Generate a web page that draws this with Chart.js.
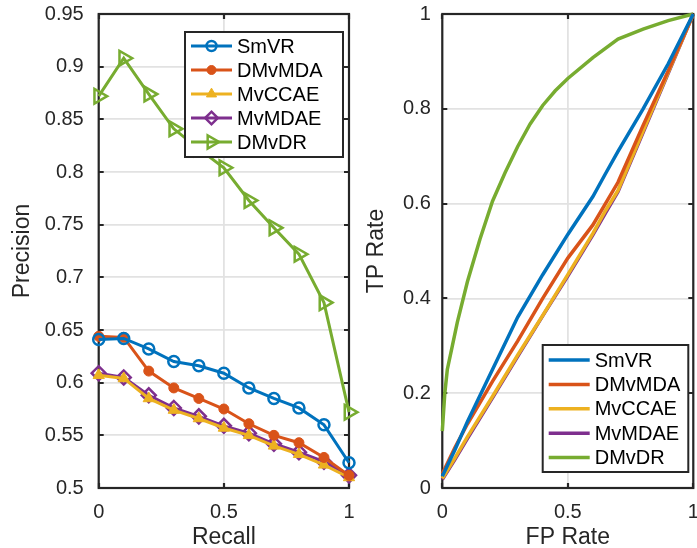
<!DOCTYPE html>
<html>
<head>
<meta charset="utf-8">
<script src="https://cdn.jsdelivr.net/npm/chart.js@4"></script>
<style>
  html, body { margin: 0; padding: 0; background: #fff; }
  #wrap { position: relative; width: 697px; height: 548px; }
  canvas { position: absolute; top: 0; }
  #pr { left: 0; }
  #roc { left: 360px; }
</style>
</head>
<body>
<div id="wrap">
  <canvas id="pr" width="360" height="548"></canvas>
  <canvas id="roc" width="337" height="548"></canvas>
</div>
<script>
// precision / recall
const recall = [0, 0.1, 0.2, 0.3, 0.4, 0.5, 0.6, 0.7, 0.8, 0.9, 1];
const prSmVR   = [0.641, 0.642, 0.632, 0.620, 0.616, 0.609, 0.595, 0.585, 0.576, 0.560, 0.524];
const prDMvMDA = [0.644, 0.643, 0.611, 0.595, 0.585, 0.575, 0.561, 0.550, 0.543, 0.529, 0.512];
const prMvCCAE = [0.607, 0.604, 0.585, 0.574, 0.566, 0.557, 0.550, 0.540, 0.532, 0.522, 0.510];
const prMvMDAE = [0.609, 0.605, 0.588, 0.576, 0.568, 0.559, 0.552, 0.542, 0.534, 0.525, 0.512];
const prDMvDR  = [0.872, 0.908, 0.874, 0.841, 0.822, 0.804, 0.773, 0.747, 0.722, 0.676, 0.572];

// ROC
const fpr = [0, 0.05, 0.1, 0.2, 0.3, 0.4, 0.5, 0.6, 0.65, 0.7, 0.8, 0.9, 1];
const tpSmVR   = [0.025, 0.08, 0.14, 0.25, 0.36, 0.45, 0.535, 0.615, 0.663, 0.71, 0.80, 0.895, 1];
const tpDMvMDA = [0.030, 0.085, 0.135, 0.225, 0.31, 0.40, 0.485, 0.555, 0.6, 0.645, 0.765, 0.88, 1];
const tpMvCCAE = [0.020, 0.063, 0.108, 0.193, 0.28, 0.364, 0.45, 0.537, 0.585, 0.628, 0.753, 0.877, 1];
const tpMvMDAE = [0.018, 0.06, 0.104, 0.19, 0.277, 0.363, 0.447, 0.534, 0.58, 0.625, 0.75, 0.875, 1];
const fprDMvDR = [0, 0.01, 0.02, 0.04, 0.06, 0.1, 0.15, 0.2, 0.25, 0.3, 0.35, 0.4, 0.45, 0.5, 0.6, 0.7, 0.8, 0.9, 1];
const tpDMvDR  = [0.12, 0.2, 0.25, 0.3, 0.35, 0.435, 0.525, 0.605, 0.665, 0.72, 0.768, 0.807, 0.838, 0.864, 0.908, 0.947, 0.968, 0.986, 1];

const prTicks = [0.5, 0.55, 0.6, 0.65, 0.7, 0.75, 0.8, 0.85, 0.9, 0.95];
const rocTicks = [0, 0.2, 0.4, 0.6, 0.8, 1];
const xTicks = [0, 0.5, 1];

const names = ['SmVR', 'DMvMDA', 'MvCCAE', 'MvMDAE', 'DMvDR'];
const colors = ['#0072BD', '#D95319', '#EDB120', '#7E2F8E', '#77AC30'];

const FONT = '"Liberation Sans", Arial, sans-serif';
const AXIS = '#262626';

const pts = (xs, ys) => xs.map((x, i) => ({ x: x, y: ys[i] }));
const fmt = v => String(+v.toFixed(2));

// matlab style box + inward ticks, under the data
const boxPlugin = {
  id: 'mbox',
  beforeDatasetsDraw(chart) {
    const { ctx, chartArea: a, scales } = chart;
    ctx.save();
    ctx.strokeStyle = AXIS;
    ctx.lineWidth = 2.2;
    ctx.strokeRect(a.left, a.top, a.right - a.left, a.bottom - a.top);
    const len = 5;
    ctx.beginPath();
    scales.x.ticks.forEach(t => {
      const px = Math.round(scales.x.getPixelForValue(t.value));
      ctx.moveTo(px, a.bottom); ctx.lineTo(px, a.bottom - len);
      ctx.moveTo(px, a.top); ctx.lineTo(px, a.top + len);
    });
    scales.y.ticks.forEach(t => {
      const py = Math.round(scales.y.getPixelForValue(t.value));
      ctx.moveTo(a.left, py); ctx.lineTo(a.left + len, py);
      ctx.moveTo(a.right, py); ctx.lineTo(a.right - len, py);
    });
    ctx.stroke();
    ctx.restore();
  }
};

// legend box drawn inside the axes
const legendPlugin = {
  id: 'mlegend',
  afterDatasetsDraw(chart, args, opts) {
    const ctx = chart.ctx;
    ctx.save();
    ctx.fillStyle = '#fff';
    ctx.fillRect(opts.x, opts.y, opts.w, opts.h);
    ctx.strokeStyle = AXIS;
    ctx.lineWidth = 2;
    ctx.strokeRect(opts.x, opts.y, opts.w, opts.h);
    ctx.font = '20px ' + FONT;
    ctx.textBaseline = 'middle';
    chart.data.datasets.forEach((ds, i) => {
      const y = opts.y + opts.first + i * opts.gap;
      const x0 = opts.x + opts.lineStart, x1 = x0 + opts.lineLen;
      ctx.strokeStyle = ds.borderColor;
      ctx.lineWidth = ds.borderWidth;
      ctx.beginPath(); ctx.moveTo(x0, y); ctx.lineTo(x1, y); ctx.stroke();
      if (ds.pointRadius > 0) {
        ctx.fillStyle = ds.pointBackgroundColor;
        ctx.strokeStyle = ds.borderColor;
        ctx.lineWidth = ds.pointBorderWidth;
        Chart.helpers.drawPoint(ctx, {
          pointStyle: ds.pointStyle,
          rotation: ds.pointRotation || 0,
          radius: ds.pointRadius * 0.9,
          borderWidth: ds.pointBorderWidth
        }, (x0 + x1) / 2, y);
      }
      ctx.fillStyle = '#000';
      ctx.fillText(ds.label, x1 + 5, y + 1);
    });
    ctx.restore();
  }
};

function axes(yTicks, yMin, yMax, yTitle, xTitle, yPad, yWidth, titlePad) {
  return {
    x: {
      type: 'linear', min: 0, max: 1,
      afterBuildTicks: s => { s.ticks = xTicks.map(v => ({ value: v })); },
      afterFit: s => { s.height = 60; s.paddingLeft = 0; s.paddingRight = 0; },
      grid: { color: '#e2e2e2', lineWidth: 1.8, drawTicks: false },
      border: { display: false },
      ticks: { color: AXIS, font: { family: FONT, size: 20 }, padding: 12, callback: fmt, maxRotation: 0 },
      title: { display: true, text: xTitle, color: AXIS, font: { family: FONT, size: 23, lineHeight: 0.9 }, padding: { top: 0, bottom: 0 } }
    },
    y: {
      type: 'linear', min: yMin, max: yMax,
      afterBuildTicks: s => { s.ticks = yTicks.map(v => ({ value: v })); },
      afterFit: s => { s.width = yWidth; s.paddingTop = 0; s.paddingBottom = 0; },
      grid: { color: '#e2e2e2', lineWidth: 1.8, drawTicks: false },
      border: { display: false },
      ticks: { color: AXIS, font: { family: FONT, size: 20 }, padding: yPad, callback: fmt },
      title: { display: true, text: yTitle, color: AXIS, font: { family: FONT, size: 23, lineHeight: 1 }, padding: { top: titlePad, bottom: 0 } }
    }
  };
}

const base = {
  responsive: false,
  animation: false,
  events: [],
  plugins: { legend: { display: false }, tooltip: { enabled: false } }
};

const markers = [
  { pointStyle: 'circle', pointRadius: 5.5, pointBorderWidth: 2.5, pointBackgroundColor: 'rgba(0,0,0,0)' },
  { pointStyle: 'circle', pointRadius: 5, pointBorderWidth: 1, pointBackgroundColor: colors[1] },
  { pointStyle: 'triangle', pointRadius: 6.5, pointBorderWidth: 1, pointBackgroundColor: colors[2] },
  { pointStyle: 'rectRot', pointRadius: 7, pointBorderWidth: 2.5, pointBackgroundColor: 'rgba(0,0,0,0)' },
  { pointStyle: 'triangle', pointRotation: 90, pointRadius: 8.5, pointBorderWidth: 2.5, pointBackgroundColor: 'rgba(0,0,0,0)' }
];
const prSeries = [prSmVR, prDMvMDA, prMvCCAE, prMvMDAE, prDMvDR];

new Chart(document.getElementById('pr'), {
  type: 'line',
  data: {
    datasets: prSeries.map((ys, i) => Object.assign({
      label: names[i],
      data: pts(recall, ys),
      borderColor: colors[i],
      pointBorderColor: colors[i],
      borderWidth: 3,
      clip: false,
      tension: 0
    }, markers[i]))
  },
  options: Object.assign({}, base, {
    layout: { padding: { left: 0, right: 10.7, top: 14, bottom: 0 } },
    scales: axes(prTicks, 0.5, 0.95, 'Precision', 'Recall', 15, 98.7, 11.5),
    plugins: Object.assign({}, base.plugins, {
      mlegend: { x: 185, y: 32, w: 158, h: 125, first: 14, gap: 24, lineStart: 6, lineLen: 41 }
    })
  }),
  plugins: [boxPlugin, legendPlugin]
});

const rocSeries = [
  pts(fpr, tpSmVR), pts(fpr, tpDMvMDA), pts(fpr, tpMvCCAE), pts(fpr, tpMvMDAE), pts(fprDMvDR, tpDMvDR)
];

new Chart(document.getElementById('roc'), {
  type: 'line',
  data: {
    datasets: rocSeries.map((d, i) => ({
      label: names[i],
      data: d,
      borderColor: colors[i],
      borderWidth: 3.5,
      pointRadius: 0,
      clip: false,
      tension: 0
    }))
  },
  options: Object.assign({}, base, {
    layout: { padding: { left: 0, right: 3.7, top: 14, bottom: 0 } },
    scales: axes(rocTicks, 0, 1, 'TP Rate', 'FP Rate', 11.5, 82.3, 5.5),
    plugins: Object.assign({}, base.plugins, {
      mlegend: { x: 182.7, y: 345, w: 145.6, h: 127, first: 15, gap: 24.4, lineStart: 6, lineLen: 41 }
    })
  }),
  plugins: [boxPlugin, legendPlugin]
});
</script>
</body>
</html>
